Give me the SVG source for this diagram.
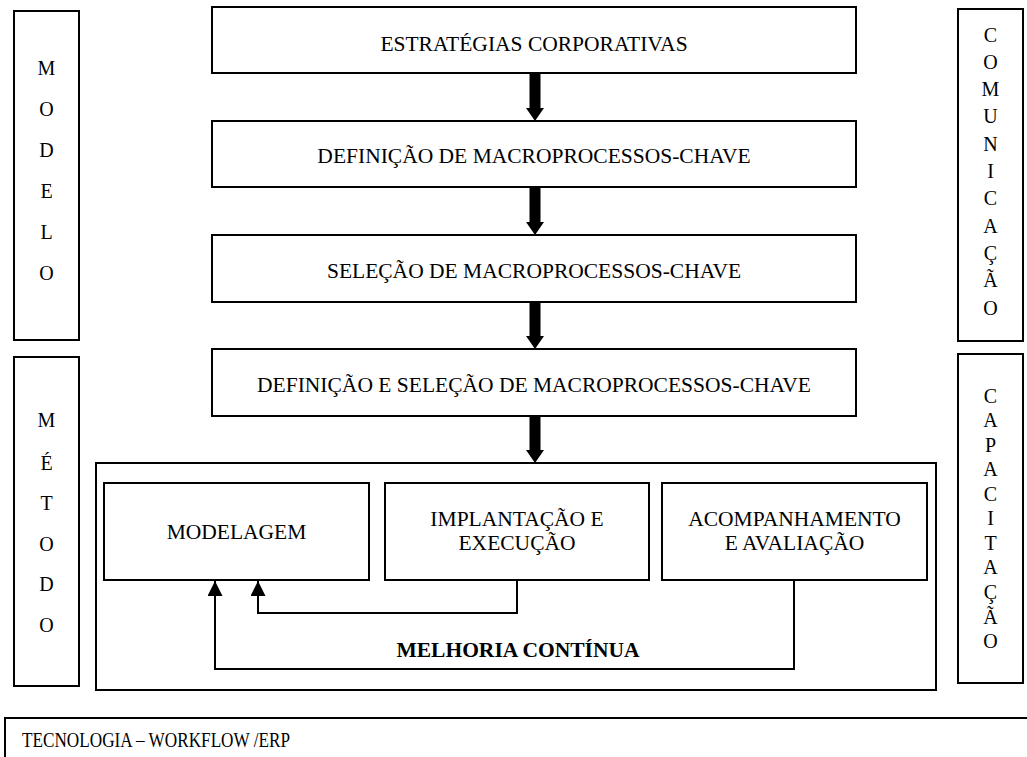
<svg xmlns="http://www.w3.org/2000/svg" width="1027" height="757" viewBox="0 0 1027 757">
  <style>
    .box { fill: #fff; stroke: #000; stroke-width: 2; }
    .txt { font-family: "Liberation Serif", "Times New Roman", serif; font-size: 21.5px; fill: #000; text-anchor: middle; }
    .side { font-family: "Liberation Serif", "Times New Roman", serif; font-size: 20px; fill: #000; text-anchor: middle; }
    .bold { font-weight: bold; }
    .flow { fill: #000; }
    .loop { fill: none; stroke: #000; stroke-width: 2; }
  </style>
  <defs>
    <marker id="head" viewBox="0 0 15 15" refX="15" refY="7.5" markerWidth="15" markerHeight="15" markerUnits="userSpaceOnUse" orient="auto">
      <path d="M0,0 L15,7.5 L0,15 Z" fill="#000"/>
    </marker>
  </defs>
  <rect width="1027" height="757" fill="#fff"/>

  <!-- side pillars -->
  <g id="modelo">
    <rect class="box" x="14" y="11" width="65" height="329"/>
    <text class="side" x="46.5" y="75">M</text>
    <text class="side" x="46.5" y="116">O</text>
    <text class="side" x="46.5" y="157">D</text>
    <text class="side" x="46.5" y="198">E</text>
    <text class="side" x="46.5" y="239">L</text>
    <text class="side" x="46.5" y="280">O</text>
  </g>
  <g id="metodo">
    <rect class="box" x="14" y="357" width="65" height="329"/>
    <text class="side" x="46.5" y="427">M</text>
    <text class="side" x="46.5" y="470">É</text>
    <text class="side" x="46.5" y="510">T</text>
    <text class="side" x="46.5" y="551">O</text>
    <text class="side" x="46.5" y="591">D</text>
    <text class="side" x="46.5" y="632">O</text>
  </g>
  <g id="comunicacao">
    <rect class="box" x="958" y="9" width="65" height="332"/>
    <text class="side" x="990.5" y="42">C</text>
    <text class="side" x="990.5" y="69">O</text>
    <text class="side" x="990.5" y="96">M</text>
    <text class="side" x="990.5" y="123">U</text>
    <text class="side" x="990.5" y="151">N</text>
    <text class="side" x="990.5" y="178">I</text>
    <text class="side" x="990.5" y="205">C</text>
    <text class="side" x="990.5" y="233">A</text>
    <text class="side" x="990.5" y="260">Ç</text>
    <text class="side" x="990.5" y="287">Ã</text>
    <text class="side" x="990.5" y="315">O</text>
  </g>
  <g id="capacitacao">
    <rect class="box" x="958" y="354" width="65" height="329"/>
    <text class="side" x="990.5" y="403">C</text>
    <text class="side" x="990.5" y="427">A</text>
    <text class="side" x="990.5" y="452">P</text>
    <text class="side" x="990.5" y="476">A</text>
    <text class="side" x="990.5" y="501">C</text>
    <text class="side" x="990.5" y="525">I</text>
    <text class="side" x="990.5" y="550">T</text>
    <text class="side" x="990.5" y="574">A</text>
    <text class="side" x="990.5" y="599">Ç</text>
    <text class="side" x="990.5" y="624">Ã</text>
    <text class="side" x="990.5" y="648">O</text>
  </g>

  <!-- main flow -->
  <g id="estrategias">
    <rect class="box" x="212" y="7" width="644" height="66"/>
    <text class="txt" x="534" y="51">ESTRATÉGIAS CORPORATIVAS</text>
  </g>
  <g id="definicao">
    <rect class="box" x="212" y="121" width="644" height="66"/>
    <text class="txt" x="534" y="163">DEFINIÇÃO DE MACROPROCESSOS-CHAVE</text>
  </g>
  <g id="selecao">
    <rect class="box" x="212" y="235" width="644" height="67"/>
    <text class="txt" x="534" y="278">SELEÇÃO DE MACROPROCESSOS-CHAVE</text>
  </g>
  <g id="definicao-selecao">
    <rect class="box" x="212" y="349" width="644" height="67"/>
    <text class="txt" x="534" y="392">DEFINIÇÃO E SELEÇÃO DE MACROPROCESSOS-CHAVE</text>
  </g>

  <!-- continuous improvement cycle -->
  <g id="melhoria">
    <rect class="box" x="96" y="463" width="840" height="227"/>
    <text class="txt bold" x="518" y="657">MELHORIA CONTÍNUA</text>
  </g>
  <g id="modelagem">
    <rect class="box" x="104" y="483" width="265" height="97"/>
    <text class="txt" x="236.5" y="539">MODELAGEM</text>
  </g>
  <g id="implantacao">
    <rect class="box" x="385" y="483" width="264" height="97"/>
    <text class="txt" x="517" y="526">IMPLANTAÇÃO E</text>
    <text class="txt" x="517" y="550">EXECUÇÃO</text>
  </g>
  <g id="acompanhamento">
    <rect class="box" x="662" y="483" width="265" height="97"/>
    <text class="txt" x="794.5" y="526">ACOMPANHAMENTO</text>
    <text class="txt" x="794.5" y="550">E AVALIAÇÃO</text>
  </g>

  <g id="tecnologia">
    <rect class="box" x="5" y="718" width="1040" height="60"/>
    <text class="txt" x="22" y="747" style="text-anchor:start" textLength="268" lengthAdjust="spacingAndGlyphs">TECNOLOGIA – WORKFLOW /ERP</text>
  </g>

  <g id="connectors">
    <polygon class="flow" points="529.5,73 540.5,73 540.5,108 544,108 535,121 526,108 529.5,108"/>
    <polygon class="flow" points="529.5,187 540.5,187 540.5,222 544,222 535,235 526,222 529.5,222"/>
    <polygon class="flow" points="529.5,302 540.5,302 540.5,336 544,336 535,349 526,336 529.5,336"/>
    <polygon class="flow" points="529.5,416 540.5,416 540.5,450 544,450 535,463 526,450 529.5,450"/>
    <path class="loop" d="M517,580 V613 H258 V581" marker-end="url(#head)"/>
    <path class="loop" d="M794,580 V669 H215 V581" marker-end="url(#head)"/>
  </g>
</svg>
